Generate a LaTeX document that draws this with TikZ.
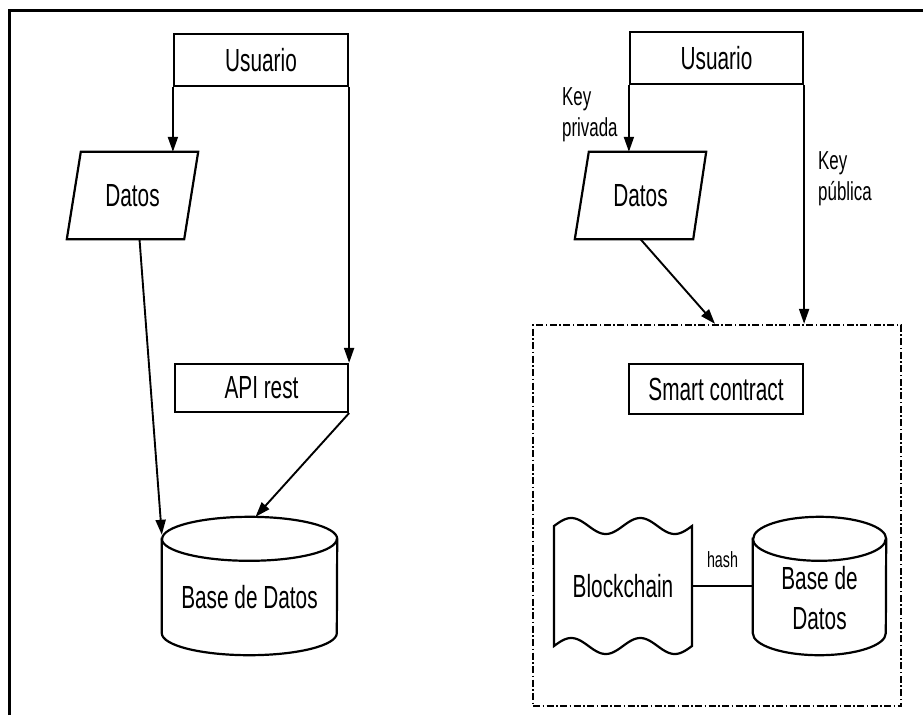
\documentclass[tikz,border=0pt]{standalone}
\usepackage{fontspec}
\setmainfont{Liberation Sans}[FakeStretch=0.65]
\usetikzlibrary{arrows.meta,calc}
\tikzset{
  shapeline/.style={line width=2.2pt, line join=miter},
  boxnode/.style={draw, shapeline, rectangle, inner sep=0pt, font=\fontsize{32}{40}\selectfont},
  plainnode/.style={rectangle, inner sep=0pt, font=\fontsize{32}{40}\selectfont},
  smalltxt/.style={inner sep=0pt, align=left, font=\fontsize{26}{31}\selectfont},
  conn/.style={line width=1.9pt, -{Triangle[length=15pt,width=10pt]}},
  link/.style={line width=1.9pt},
  dashbox/.style={draw, line width=2.3pt, dash pattern=on 7pt off 2.5pt on 1.5pt off 2.5pt, rectangle, inner sep=0pt}
}
\newcommand{\drawcyl}[2]{%
  \draw[shapeline] ([yshift=-22pt]#1.north west) -- ([yshift=22pt]#1.south west)
    arc[start angle=180,end angle=360,x radius=#2,y radius=22pt]
    -- ([yshift=-22pt]#1.north east)
    arc[start angle=0,end angle=180,x radius=#2,y radius=22pt] -- cycle;
  \draw[shapeline] ([yshift=-22pt]#1.north west) arc[start angle=180,end angle=360,x radius=#2,y radius=22pt];}
\begin{document}
\begin{tikzpicture}[x=1pt,y=1pt]
\useasboundingbox (0,0) rectangle (923,-715);
% outer frame
\draw[line width=3pt] (9,-715) -- (9,-10) -- (923,-10);

% ---------- left diagram ----------
\node[boxnode, minimum width=174pt, minimum height=52pt] (lusr) at (261,-60) {Usuario};
\node[plainnode, minimum width=131pt, minimum height=87pt] (ldatos) at (132.5,-195.5) {Datos};
\draw[shapeline] ([xshift=14pt]ldatos.north west) -- (ldatos.north east) -- ([xshift=-14pt]ldatos.south east) -- (ldatos.south west) -- cycle;
\node[boxnode, minimum width=173pt, minimum height=48pt] (lapi) at (261.5,-388) {API rest};
\node[plainnode, minimum width=175pt, minimum height=138pt] (ldb) at (249.5,-586) {};
\drawcyl{ldb}{87.5pt}
\node[plainnode] (ldbt) at ([yshift=-11pt]ldb.center) {Base de Datos};

\draw[conn] (lusr.south west) -- (lusr.south west |- ldatos.north);
\draw[conn] (lusr.south east) -- (lusr.south east |- lapi.north);
\draw[conn] ([xshift=7pt]ldatos.south) -- ([yshift=-18pt]ldb.north west);
\draw[conn] (lapi.south east) -- ([xshift=6pt]ldb.north);

% ---------- right diagram ----------
\node[boxnode, minimum width=173pt, minimum height=52pt] (rusr) at (716.5,-58) {Usuario};
\node[plainnode, minimum width=131pt, minimum height=87pt] (rdatos) at (640.5,-195.5) {Datos};
\draw[shapeline] ([xshift=14pt]rdatos.north west) -- (rdatos.north east) -- ([xshift=-13pt]rdatos.south east) -- (rdatos.south west) -- cycle;
\node[smalltxt, anchor=north west] (kpriv) at (562,-87) {Key\\privada};
\node[smalltxt, anchor=north west] (kpub) at (818,-151) {Key\\pública};

\node[dashbox, minimum width=368pt, minimum height=381pt] (sbox) at (717,-515.5) {};
\node[boxnode, minimum width=174pt, minimum height=50pt] (sc) at (716,-389) {Smart contract};

\node[plainnode, minimum width=138pt, minimum height=120pt] (bc) at (623,-586) {Blockchain};
\begin{scope}[shift={(bc.center)}]
\draw[shapeline] plot[domain=-69:69,samples=80] (\x,{60+8*sin(5.21739*(\x+69))})
  -- plot[domain=69:-69,samples=80] (\x,{-60+8*sin(5.21739*(\x+69))}) -- cycle;
\end{scope}

\node[plainnode, minimum width=133pt, minimum height=138pt] (rdb) at (819.5,-586) {};
\drawcyl{rdb}{66.5pt}
\node[plainnode, align=center] (rdbt) at ([yshift=-12pt]rdb.center) {Base de\\Datos};

\draw[link] (bc.east) -- (rdb.west) node[midway, above=17pt, inner sep=0pt, font=\fontsize{22}{26}\selectfont] (hashlbl) {hash};

\draw[conn] (rusr.south west) -- (rusr.south west |- rdatos.north);
\draw[conn] (rusr.south east) -- (rusr.south east |- sbox.north);
\draw[conn] (rdatos.south) -- ([xshift=-2pt]sbox.north);
\end{tikzpicture}
\end{document}
